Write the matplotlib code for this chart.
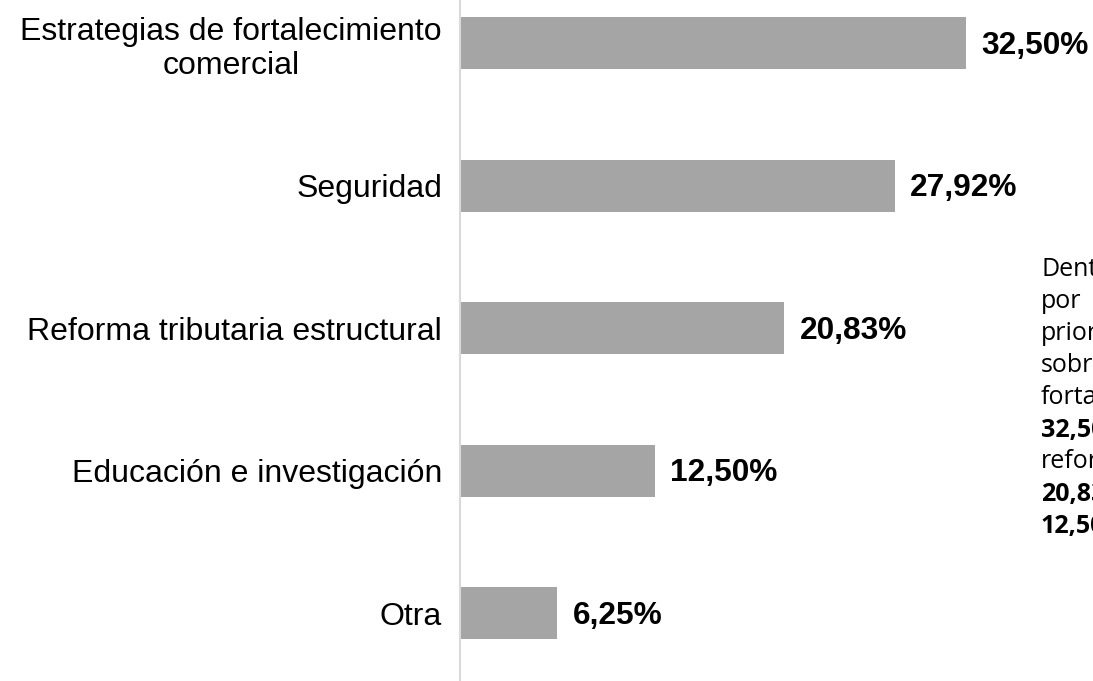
import matplotlib
matplotlib.use('Agg')
import matplotlib.pyplot as plt

# Datos del grafico
categorias = ['Estrategias de fortalecimiento\ncomercial', 'Seguridad',
              'Reforma tributaria estructural', 'Educación e investigación', 'Otra']
valores = [32.50, 27.92, 20.83, 12.50, 6.25]
etiquetas = ['32,50%', '27,92%', '20,83%', '12,50%', '6,25%']

# Texto lateral (cortado por el borde en el original)
lineas_texto = ['Dentro', 'por', 'prioridad', 'sobresale', 'fortalecimiento',
                '32,50%', 'reforma', '20,83%', '12,50%']
lineas_negrita = [False, False, False, False, False, True, False, True, True]

W, H = 1093, 681
fig = plt.figure(figsize=(W / 100, H / 100), dpi=100)
ax = fig.add_axes([460 / W, 0, (W - 460) / W, 1])

pos = list(range(len(categorias)))
ax.barh(pos, valores, height=0.365, color='#a5a5a5')

ax.set_xlim(0, (W - 460) / 15.57)
ax.set_ylim(4.477, -0.302)

for i, v in enumerate(valores):
    ax.text(v + 1.0, i + 0.02, etiquetas[i], va='center', ha='left',
            fontsize=22.8, fontweight='bold', family='Liberation Sans')

ax.set_yticks(pos)
ax.set_yticklabels(categorias, fontsize=23, family='Liberation Sans',
                   multialignment='center')
ax.tick_params(axis='y', length=0, pad=13)
ax.set_xticks([])

for s in ['top', 'right', 'bottom']:
    ax.spines[s].set_visible(False)
ax.spines['left'].set_color('#d9d9d9')
ax.spines['left'].set_linewidth(1.5)

for j, linea in enumerate(lineas_texto):
    fig.text(1041 / W, 1 - (270 + 32 * j) / H, linea, va='center', ha='left',
             fontsize=18, family='Open Sans',
             fontweight='bold' if lineas_negrita[j] else 'normal')

fig.savefig('out.png', dpi=100)
